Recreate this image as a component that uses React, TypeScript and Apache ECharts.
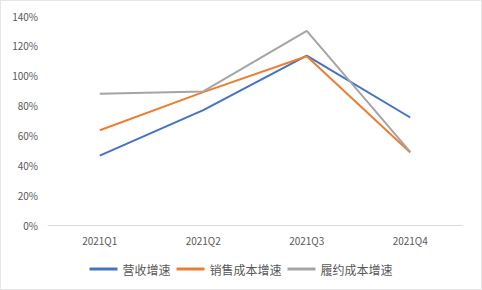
import React, { useEffect, useRef } from "react";
import * as echarts from "echarts";

const categories = ["2021Q1", "2021Q2", "2021Q3", "2021Q4"];
const revenueGrowth = [46.5, 77, 113.5, 72];
const salesCostGrowth = [63.5, 89, 113, 48.5];
const fulfillCostGrowth = [88, 89.5, 130, 49];
const seriesNames = ["营收增速", "销售成本增速", "履约成本增速"];
const colors = ["#4472C4", "#ED7D31", "#A5A5A5"];

export default function App() {
  const ref = useRef<HTMLDivElement>(null);
  useEffect(() => {
    if (!ref.current) return;
    const chart = echarts.init(ref.current, undefined, { renderer: "svg" });
    const font = '"Microsoft YaHei", "Noto Sans CJK SC", sans-serif';
    const datas = [revenueGrowth, salesCostGrowth, fulfillCostGrowth];
    chart.setOption({
      animation: false,
      backgroundColor: "#ffffff",
      color: colors,
      grid: { left: 47, right: 19, top: 15, bottom: 64 },
      legend: {
        bottom: 9,
        left: "center",
        icon: "rect",
        itemWidth: 28,
        itemHeight: 3,
        itemGap: 6,
        textStyle: { color: "#595959", fontSize: 12, fontFamily: font },
        data: seriesNames,
      },
      xAxis: {
        type: "category",
        data: categories,
        boundaryGap: true,
        axisLine: { lineStyle: { color: "#D9D9D9" } },
        axisTick: { show: false },
        axisLabel: { color: "#595959", fontSize: 10, fontFamily: font, margin: 10 },
      },
      yAxis: {
        type: "value",
        min: 0,
        max: 140,
        interval: 20,
        axisLine: { show: false },
        axisTick: { show: false },
        splitLine: { show: false },
        axisLabel: {
          color: "#595959",
          fontSize: 10,
          fontFamily: font,
          margin: 10,
          formatter: (v: number) => v + "%",
        },
      },
      series: seriesNames.map((name, i) => ({
        name,
        type: "line",
        data: datas[i],
        symbol: "none",
        lineStyle: { width: 2, color: colors[i] },
        itemStyle: { color: colors[i] },
      })),
    });
    return () => chart.dispose();
  }, []);
  return (
    <div
      ref={ref}
      style={{
        position: "fixed",
        left: 0,
        top: 0,
        width: 482,
        height: 290,
        boxSizing: "border-box",
        border: "1px solid #E6E6E6",
      }}
    />
  );
}
